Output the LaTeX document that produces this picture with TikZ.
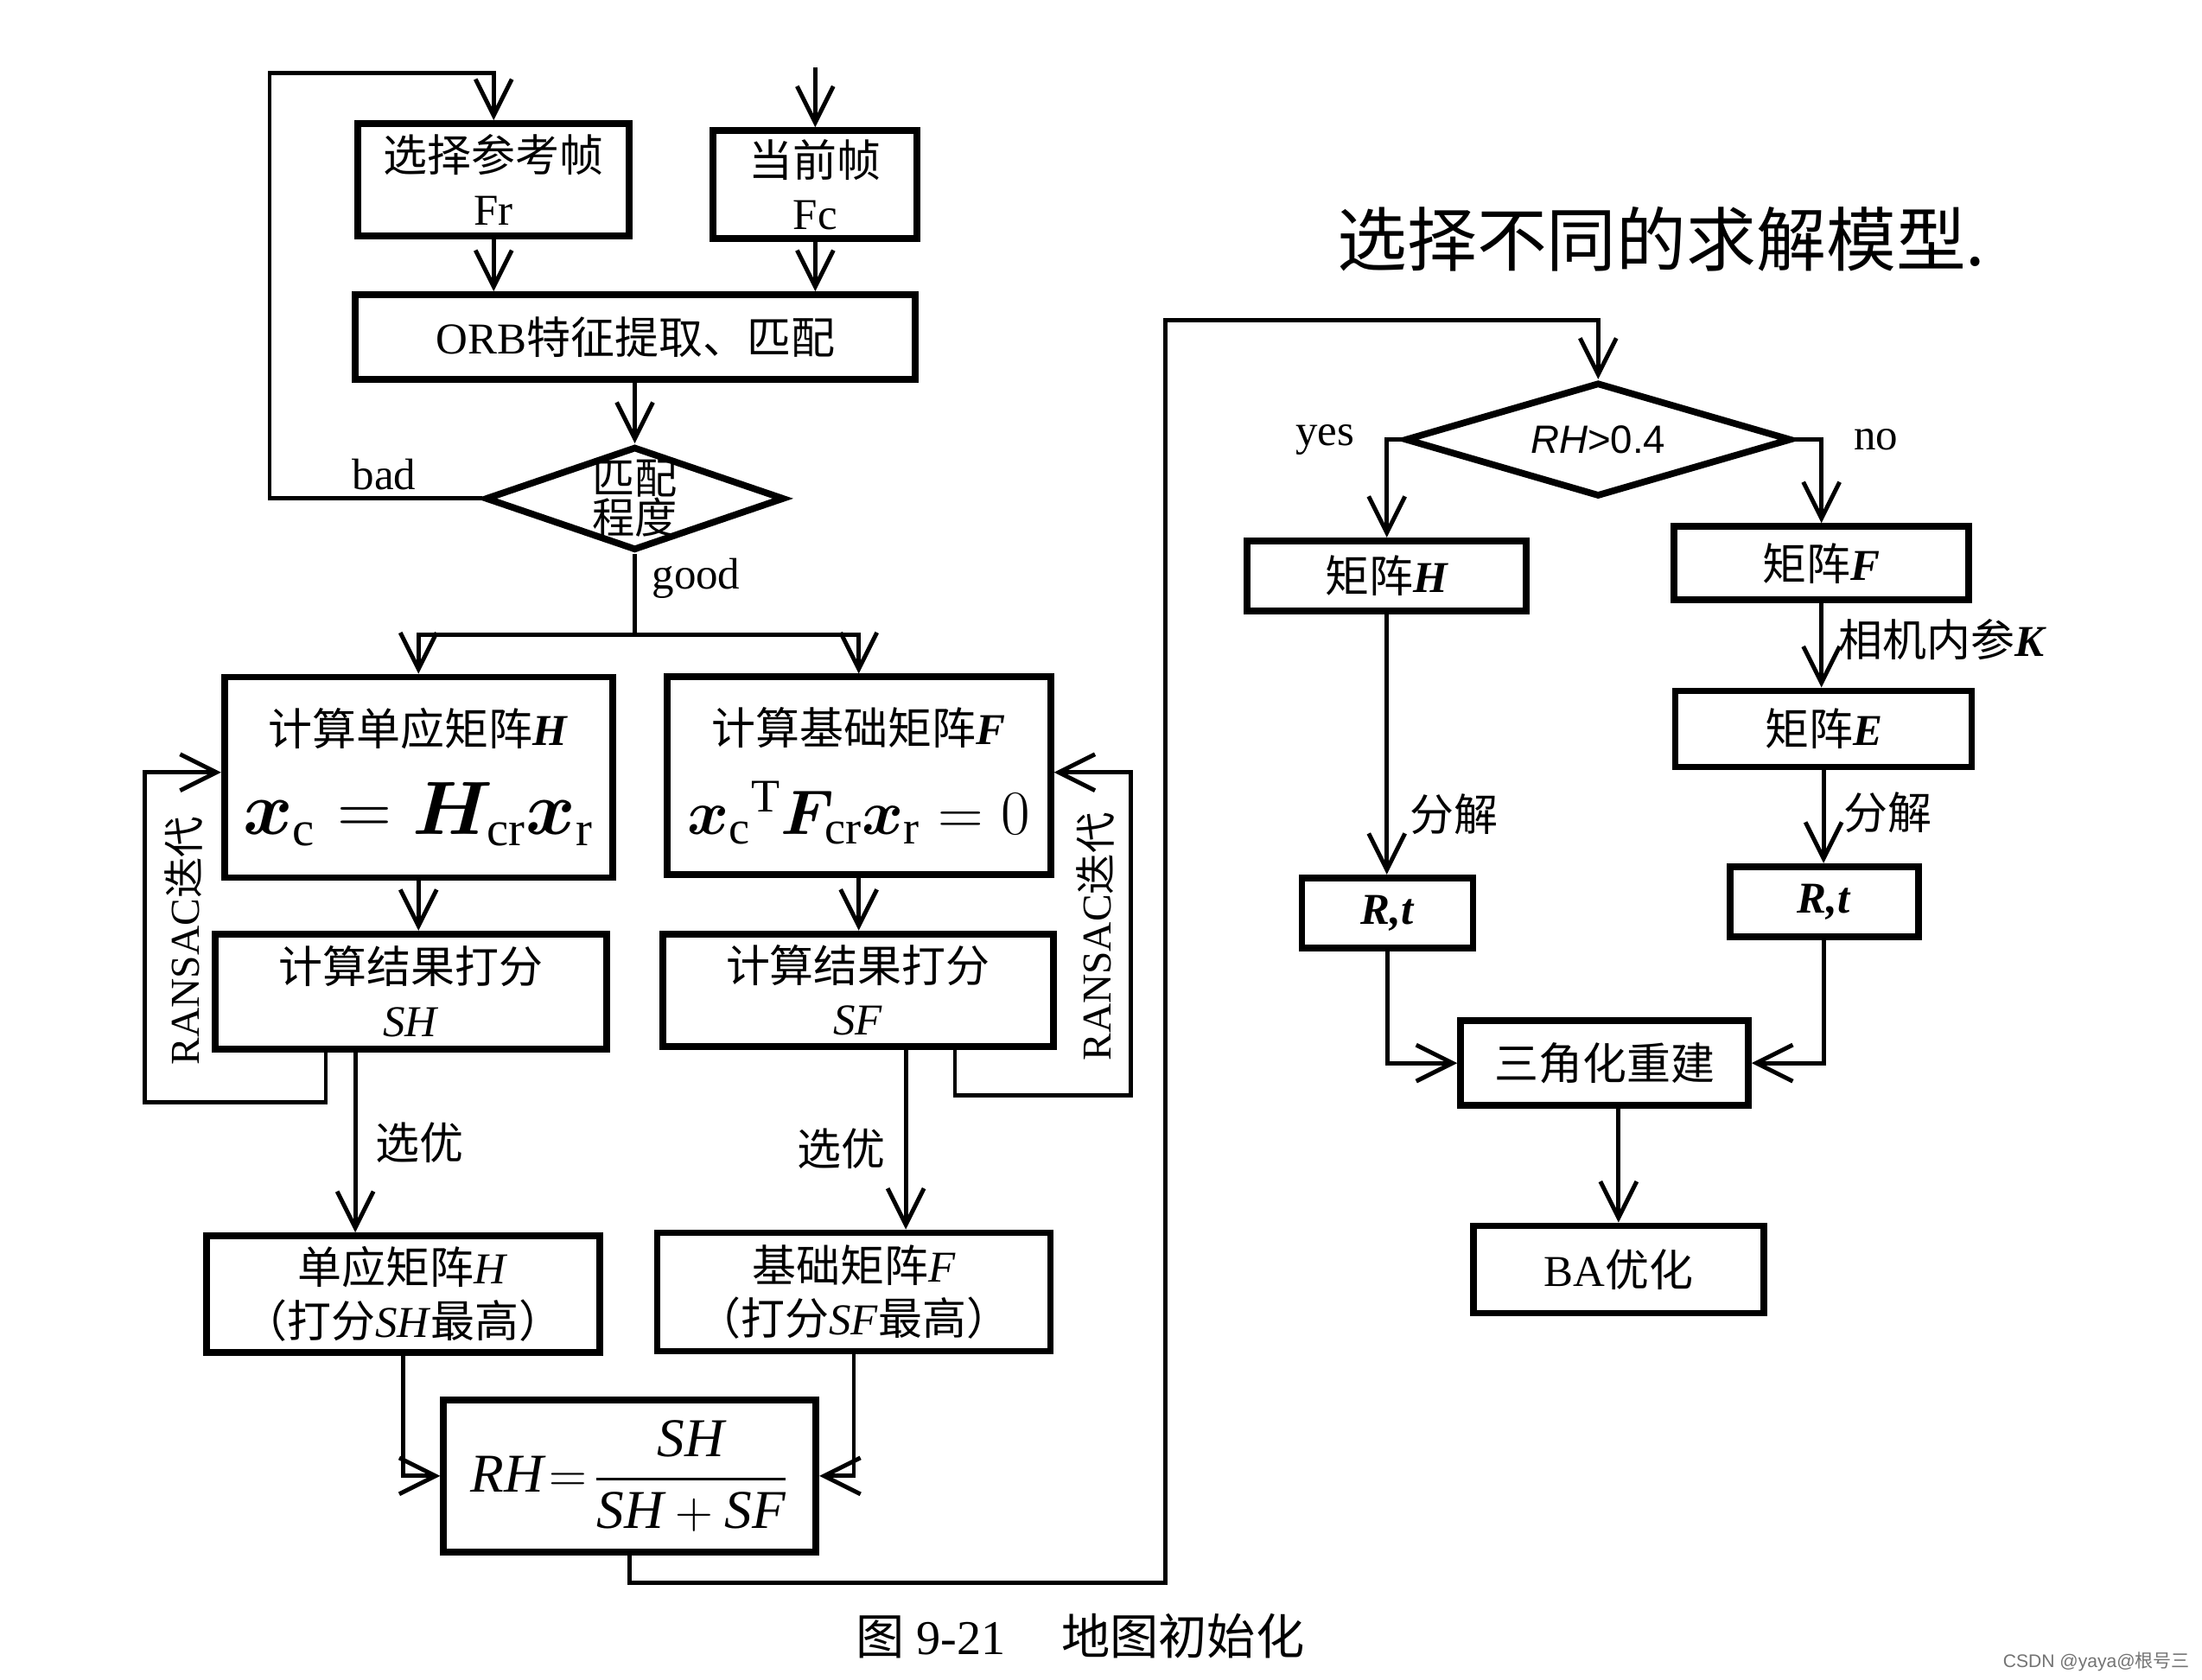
\documentclass[tikz,border=0pt]{standalone}
\usepackage{fontspec}
\usepackage{amsmath}
\usepackage{bm}
\setmainfont{Liberation Serif}
\setsansfont{Liberation Sans}
\newfontfamily\cjk{Noto Sans CJK SC}
\newcommand{\zh}[1]{{\cjk #1}}
\usetikzlibrary{shapes.geometric,arrows.meta,calc}

\begin{document}
\begin{tikzpicture}[x=0.01625cm, y=-0.01625cm,
    box/.style={draw, line width=2.2pt, align=center, inner sep=1pt,
      font=\fontsize{14.5}{17.5}\selectfont},
    decide/.style={draw, diamond, line width=2.2pt, inner sep=0pt},
    link/.style={line width=1.4pt},
    conn/.style={link, -{Straight Barb[length=4.2mm,width=4.2mm]}},
    lbl/.style={font=\fontsize{14.5}{17}\selectfont, inner sep=1pt}]

  \useasboundingbox (0,0) rectangle (1568,1196);

  % Input frames
  \node[box, minimum width=3.14cm, minimum height=1.30cm] (fr) at (351.5,128) {\zh{选择参考帧}\\Fr};
  \node[box, minimum width=2.36cm, minimum height=1.25cm] (fc) at (580.5,131.5) {\zh{当前帧}\\Fc};
  \node[box, minimum width=6.48cm, minimum height=0.98cm] (orb) at (452.5,240) {ORB\zh{特征提取、匹配}};

  % Match quality
  \node[decide, minimum width=3.46cm, minimum height=1.20cm,
    label={[lbl, align=center, font=\fontsize{14}{13}\selectfont]center:\zh{匹配}\\\zh{程度}}] (match) at (452,355) {};

  % Two models
  \node[box, minimum width=4.49cm, minimum height=2.32cm] (ch) at (298,553.5)
    {\zh{计算单应矩阵}\textbf{\textit{H}}\\[10pt]
     {\fontsize{23}{26}\selectfont $\bm{x}_{\mathrm{c}} = \bm{H}_{\mathrm{cr}}\bm{x}_{\mathrm{r}}$}};
  \node[box, minimum width=4.44cm, minimum height=2.29cm] (cf) at (611.5,552.5)
    {\zh{计算基础矩阵}\textbf{\textit{F}}\\[10pt]
     {\fontsize{22}{26}\selectfont $\bm{x}_{\mathrm{c}}{}^{\mathrm{T}}\bm{F}_{\mathrm{cr}}\bm{x}_{\mathrm{r}} = 0$}};
  \node[box, minimum width=4.53cm, minimum height=1.33cm] (sh) at (292.5,706) {\zh{计算结果打分}\\\textit{SH}};
  \node[box, minimum width=4.52cm, minimum height=1.30cm] (sf) at (611,705) {\zh{计算结果打分}\\\textit{SF}};
  \node[box, minimum width=4.55cm, minimum height=1.35cm] (bh) at (287,921.5) {\zh{单应矩阵}\textit{H}\\\zh{（打分}\textit{SH}\zh{最高）}};
  \node[box, minimum width=4.55cm, minimum height=1.37cm] (bf) at (608,920) {\zh{基础矩阵}\textit{F}\\\zh{（打分}\textit{SF}\zh{最高）}};
  \node[box, inner sep=0pt, minimum width=4.31cm, minimum height=1.76cm] (rh) at (448.5,1051)
    {\fontsize{18}{21}\selectfont $\textit{RH}\!=\!\dfrac{\textit{SH}}{\textit{SH}+\textit{SF}}$};

  % RANSAC labels
  \node[lbl, font=\fontsize{13.5}{16}\selectfont, rotate=90] (ransacL) at (131,670) {RANSAC\zh{迭代}};
  \node[lbl, font=\fontsize{13.5}{16}\selectfont, rotate=90] (ransacR) at (780,667) {RANSAC\zh{迭代}};

  % Model selection
  \node[lbl, font=\fontsize{23}{26}\selectfont] (hand) at (1183,170) {\zh{选择不同的求解模型.}};
  \node[decide, minimum width=4.47cm, minimum height=1.32cm,
    label={[lbl, font=\fontsize{13}{15}\selectfont\sffamily]center:\textit{RH}>0.4}] (rhd) at (1138,313) {};
  \node[box, minimum width=3.23cm, minimum height=0.81cm] (mh) at (987.5,410) {\zh{矩阵}\textbf{\textit{H}}};
  \node[box, minimum width=3.41cm, minimum height=0.85cm] (mf) at (1297,401) {\zh{矩阵}\textbf{\textit{F}}};
  \node[box, minimum width=3.43cm, minimum height=0.88cm] (me) at (1298.5,519) {\zh{矩阵}\textbf{\textit{E}}};
  \node[box, minimum width=1.98cm, minimum height=0.81cm] (rtl) at (988,650) {\textbf{\textit{R,t}}};
  \node[box, minimum width=2.18cm, minimum height=0.81cm] (rtr) at (1299,642) {\textbf{\textit{R,t}}};
  \node[box, minimum width=3.33cm, minimum height=0.98cm] (tri) at (1142.5,757) {\zh{三角化重建}};
  \node[box, minimum width=3.36cm, minimum height=1.01cm] (ba) at (1152.5,904) {BA\zh{优化}};

  % Caption
  \node[font=\fontsize{16}{18}\selectfont] (cap) at (769,1165) {\zh{图} 9-21\hspace{1.15em}\zh{地图初始化}};
  \node[font=\fontsize{6}{7}\selectfont\sffamily, text=black!55, anchor=east, inner sep=1pt] (mark) at (1562,1183) {CSDN @yaya@\zh{根号三}};

  % Connectors, left part
  \coordinate (loop) at (192,52);
  \coordinate (fcin) at (580.5,48);
  \coordinate (split) at (452,452);
  \coordinate (ranLx) at (232,785);
  \coordinate (ranL) at (103,550);
  \coordinate (ranRx) at (680,780);
  \coordinate (ranR) at (805,550);
  \coordinate (pickH) at (253,0);
  \coordinate (pickF) at (645,0);
  \coordinate (busB) at (830,1127);
  \coordinate (busT) at (830,228);

  \draw[conn] (match.west) -| node[lbl, above=1pt, pos=0.23] {bad} (loop) -| (fr.north);
  \draw[conn] (fcin) -- (fc.north);
  \draw[conn] (fr.south) -- (fr.south |- orb.north);
  \draw[conn] (fc.south) -- (fc.south |- orb.north);
  \draw[conn] (match.north |- orb.south) -- (match.north);
  \draw[link] (match.south) -- node[lbl, right=4pt, pos=0.3] {good} (split);
  \draw[conn] (split) -| (ch.north);
  \draw[conn] (split) -| (cf.north);
  \draw[conn] (ch.south) -- (ch.south |- sh.north);
  \draw[conn] (cf.south) -- (cf.south |- sf.north);
  \draw[conn] (sh.south -| ranLx) -- (ranLx) -| (ranL) -- (ranL -| ch.west);
  \draw[conn] (sf.south -| ranRx) -- (ranRx) -| (ranR) -- (ranR -| cf.east);
  \draw[conn] (sh.south -| pickH) -- node[lbl, right=5pt, pos=0.5] {\zh{选优}} (bh.north -| pickH);
  \draw[conn] (sf.south -| pickF) -- node[lbl, left=5pt, pos=0.55] {\zh{选优}} (bf.north -| pickF);
  \draw[conn] (bh.south) |- (rh.west);
  \draw[conn] (bf.south) |- (rh.east);
  \draw[conn] (rh.south) |- (busB) -- (busT) -| (rhd.north);

  % Connectors, right part
  \draw[conn] (rhd.west) -| node[lbl, left=9pt, pos=0.5] {yes} (mh.north);
  \draw[conn] (rhd.east) -| node[lbl, right=9pt, pos=0.5] {no} (mf.north);
  \draw[conn] (mh.south) -- node[lbl, right=6pt, pos=0.77] {\zh{分解}} (mh.south |- rtl.north);
  \draw[conn] (mf.south) -- node[lbl, right=4pt, pos=0.43] {\zh{相机内参}\textbf{\textit{K}}} (mf.south |- me.north);
  \draw[conn] (me.south) -- node[lbl, right=5pt, pos=0.45] {\zh{分解}} (me.south |- rtr.north);
  \draw[conn] (rtl.south) |- (tri.west);
  \draw[conn] (rtr.south) |- (tri.east);
  \draw[conn] (ba.north |- tri.south) -- (ba.north);

\end{tikzpicture}
\end{document}
